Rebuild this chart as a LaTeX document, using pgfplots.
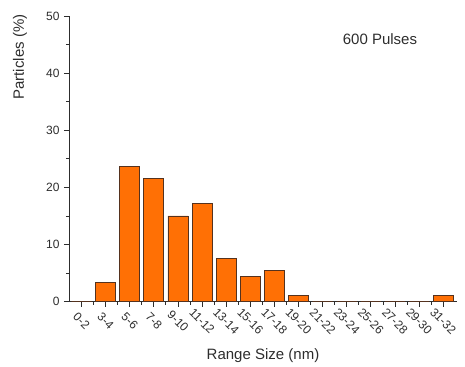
\documentclass[border=0pt]{standalone}
\usepackage{fontspec}
\setmainfont{Liberation Sans}
\usepackage{pgfplots}
\pgfplotsset{compat=1.18}
\definecolor{barfill}{RGB}{255,112,5}
\definecolor{baredge}{RGB}{85,50,30}
\definecolor{txt}{RGB}{45,45,45}
\begin{document}
\begin{tikzpicture}
\useasboundingbox (-69bp,-65.3bp) rectangle (396bp,301.7bp);
\begin{axis}[
  at={(0,0)}, anchor=south west,
  scale only axis, width=388bp, height=285.7bp,
  xmin=-0.52, xmax=15.57, ymin=0, ymax=50,
  axis x line=bottom, axis y line=left,
  axis line style={-, draw=txt, line width=0.9bp},
  tick style={draw=txt, line width=0.9bp},
  tick align=outside,
  major tick length=5bp, minor tick length=3bp,
  xtick={0,...,15},
  xticklabels={0-2,3-4,5-6,7-8,9-10,11-12,13-14,15-16,17-18,19-20,21-22,23-24,25-26,27-28,29-30,31-32},
  minor x tick num=1,
  ytick={0,10,...,50}, minor y tick num=1,
  /pgf/number format/assume math mode=true,
  tick label style={font=\fontsize{12bp}{14bp}\selectfont, text=txt},
  xticklabel style={yshift=-14.5bp, rotate=-45, anchor=center},
  yticklabel style={xshift=-1bp},
  xlabel={Range Size (nm)}, ylabel={Particles (\%)},
  label style={font=\fontsize{15bp}{18bp}\selectfont, text=txt},
  xlabel style={at={(axis description cs:0.5,-0.19)}, anchor=center},
  ylabel style={at={(axis description cs:-0.126,0.856)}, anchor=center},
  ybar, bar width=0.83, bar shift=0,
  clip=false,
]
\addplot[fill=barfill, draw=baredge, line width=0.8bp] coordinates {
(0,0) (1,3.3) (2,23.6) (3,21.5) (4,15.0) (5,17.2) (6,7.6) (7,4.4)
(8,5.4) (9,1.1) (10,0) (11,0) (12,0) (13,0) (14,0) (15,1.1)};
\node[font=\fontsize{15bp}{18bp}\selectfont, text=txt] at (axis description cs:0.8015,0.9195) {600 Pulses};
\end{axis}
\end{tikzpicture}
\end{document}
